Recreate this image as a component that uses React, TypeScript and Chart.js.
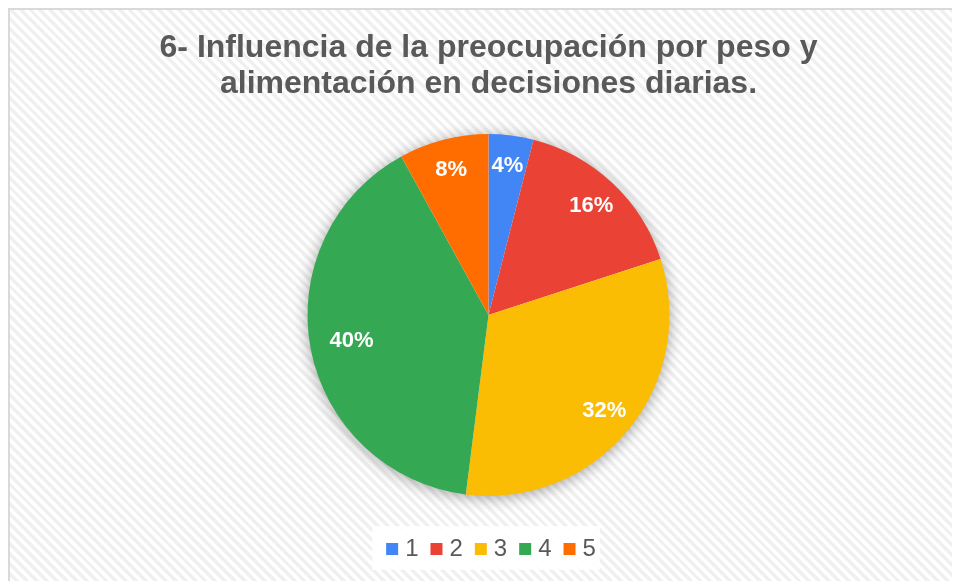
import React, { useEffect, useRef } from "react";
import { Chart, registerables } from "chart.js";

Chart.register(...registerables);

const titleLines = ["6- Influencia de la preocupación por peso y", "alimentación en decisiones diarias."];
const categories = ["1", "2", "3", "4", "5"];
const values = [1, 4, 8, 10, 2];
const colors = ["#4285F4", "#EA4335", "#FBBC04", "#34A853", "#FF6D01"];

const FONT = "'Liberation Sans', Arial, sans-serif";

const shadowPlugin = {
  id: "pieShadow",
  beforeDatasetsDraw(chart: any) {
    const arc = chart.getDatasetMeta(0).data[0];
    if (!arc) return;
    const { x, y, outerRadius } = arc.getProps(["x", "y", "outerRadius"], true);
    const ctx = chart.ctx;
    ctx.save();
    ctx.shadowColor = "rgba(0,0,0,0.4)";
    ctx.shadowBlur = 16;
    ctx.shadowOffsetY = 2;
    ctx.fillStyle = "#ffffff";
    ctx.beginPath();
    ctx.arc(x, y, outerRadius - 1, 0, Math.PI * 2);
    ctx.fill();
    ctx.restore();
  },
};

const labelPlugin = {
  id: "pieLabels",
  afterDatasetsDraw(chart: any) {
    const meta = chart.getDatasetMeta(0);
    const data = chart.data.datasets[0].data as number[];
    const total = data.reduce((a, b) => a + b, 0);
    const ctx = chart.ctx;
    ctx.save();
    ctx.fillStyle = "#ffffff";
    ctx.font = `bold 22px ${FONT}`;
    ctx.textAlign = "center";
    ctx.textBaseline = "middle";
    meta.data.forEach((arc: any, i: number) => {
      const { x, y, startAngle, endAngle, outerRadius } = arc.getProps(
        ["x", "y", "startAngle", "endAngle", "outerRadius"],
        true
      );
      const mid = (startAngle + endAngle) / 2;
      const frac = data[i] / total;
      const r = outerRadius * (frac > 0.35 ? 0.77 : 0.83);
      ctx.fillText(Math.round(frac * 100) + "%", x + Math.cos(mid) * r, y + Math.sin(mid) * r);
    });
    ctx.restore();
  },
};

const legendShiftPlugin = {
  id: "legendShift",
  afterLayout(chart: any) {
    const lg = chart.legend;
    if (!lg) return;
    lg.left += 5;
    lg.right += 5;
  },
};

const legendBgPlugin = {
  id: "legendBg",
  beforeDraw(chart: any) {
    const lg = chart.legend;
    if (!lg || !lg.legendHitBoxes || !lg.legendHitBoxes.length) return;
    const boxes = lg.legendHitBoxes;
    const left = Math.min(...boxes.map((b: any) => b.left)) - 19;
    const right = Math.max(...boxes.map((b: any) => b.left + b.width)) + 4;
    const top = Math.min(...boxes.map((b: any) => b.top)) - 11;
    const bottom = Math.max(...boxes.map((b: any) => b.top + b.height)) + 9;
    const ctx = chart.ctx;
    ctx.save();
    ctx.fillStyle = "rgba(255,255,255,0.9)";
    ctx.fillRect(left, top, right - left, bottom - top);
    ctx.restore();
  },
};

export default function App() {
  const ref = useRef<HTMLCanvasElement>(null);
  useEffect(() => {
    if (!ref.current) return;
    const chart = new Chart(ref.current, {
      type: "pie",
      data: {
        labels: categories,
        datasets: [
          {
            data: values,
            backgroundColor: colors,
            borderWidth: 0,
            radius: 181,
          },
        ],
      },
      options: {
        animation: false,
        responsive: false,
        layout: { padding: { left: 7, bottom: 10 } },
        plugins: {
          title: {
            display: true,
            text: titleLines,
            color: "#595959",
            font: { family: FONT, size: 32, weight: "bold", lineHeight: 1.125 },
            padding: { top: 20, bottom: 8 },
          },
          legend: {
            display: true,
            position: "bottom",
            labels: {
              color: "#595959",
              font: { family: FONT, size: 24 },
              usePointStyle: true,
              pointStyle: "rect",
              boxWidth: 2,
              boxHeight: 12,
              padding: 17,
            },
          },
          tooltip: { enabled: false },
        },
      },
      plugins: [legendShiftPlugin, shadowPlugin, labelPlugin, legendBgPlugin],
    });
    return () => chart.destroy();
  }, []);

  return (
    <div
      style={{
        width: 950,
        height: 571,
        border: "2px solid #d9d9d9",
        borderRight: "none",
        borderBottom: "none",
        background:
          "repeating-linear-gradient(45deg, #ffffff 0px, #ffffff 3.5px, #f0f0f0 3.5px, #f0f0f0 7px)",
      }}
    >
      <canvas ref={ref} width={950} height={571} style={{ display: "block" }} />
    </div>
  );
}
